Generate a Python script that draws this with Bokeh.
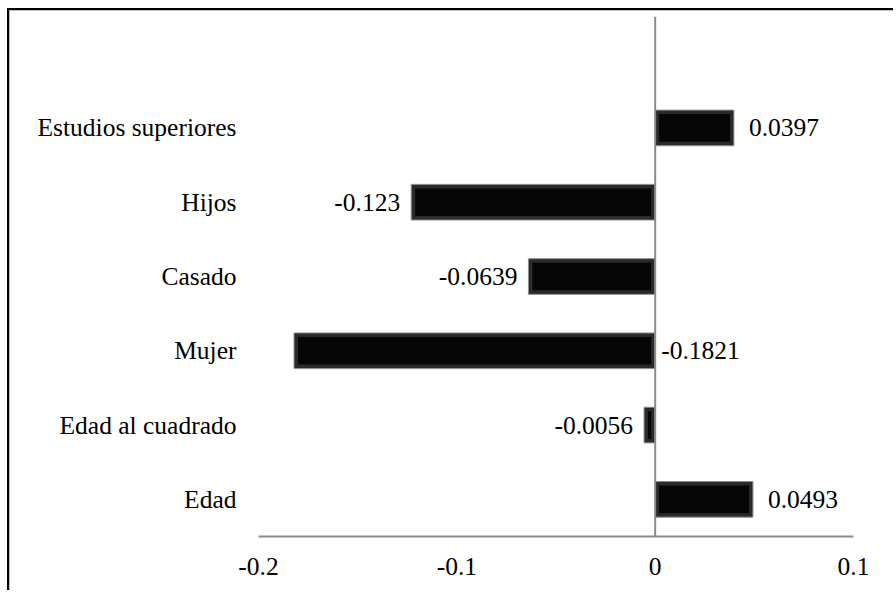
from bokeh.plotting import figure
from bokeh.models import Range1d, FixedTicker, Span, ColumnDataSource
from bokeh.core.properties import value
from bokeh.embed import file_html
from bokeh.resources import INLINE

categories = ["Edad", "Edad al cuadrado", "Mujer", "Casado", "Hijos", "Estudios superiores"]
coefs = [0.0493, -0.0056, -0.1821, -0.0639, -0.123, 0.0397]
coef_labels = ["0.0493", "-0.0056", "-0.1821", "-0.0639", "-0.123", "0.0397"]
x_ticks = [-0.2, -0.1, 0, 0.1]
x_tick_labels = ["-0.2", "-0.1", "0", "0.1"]

FONT = "Liberation Serif"
FS = "25.5px"
XMIN, XMAX = -0.2, 0.1
FRAME_W, FRAME_H = 595, 520
N_SLOTS = len(categories) + 1

ys = [i + 0.5 for i in range(len(categories))]

p = figure(width=886, height=582, output_backend="svg", toolbar_location=None,
           x_range=Range1d(XMIN, XMAX), y_range=Range1d(0, N_SLOTS),
           min_border_left=249, min_border_right=42, min_border_top=6, min_border_bottom=56)
p.styles = {"border-top": "2px solid #000", "border-left": "2px solid #000",
            "margin-left": "7px", "margin-top": "8px",
            "box-shadow": "inset 1px 1px 0 #aaa"}
p.outline_line_color = None
p.grid.visible = False

# x axis
p.xaxis.ticker = FixedTicker(ticks=x_ticks)
p.xaxis.major_label_overrides = {t: l for t, l in zip(x_ticks, x_tick_labels)}
p.xaxis.axis_line_color = "#8c8c8c"
p.xaxis.axis_line_width = 2
p.xaxis.major_tick_line_color = None
p.xaxis.minor_tick_line_color = None
p.xaxis.major_label_standoff = 15
p.xaxis.major_label_text_font = FONT
p.xaxis.major_label_text_font_size = FS
p.xaxis.major_label_text_color = "#000"

# y axis
p.yaxis.ticker = FixedTicker(ticks=ys)
p.yaxis.major_label_overrides = {y: c for y, c in zip(ys, categories)}
p.yaxis.axis_line_color = None
p.yaxis.major_tick_line_color = None
p.yaxis.minor_tick_line_color = None
p.yaxis.major_label_standoff = 16
p.yaxis.major_label_text_font = FONT
p.yaxis.major_label_text_font_size = FS
p.yaxis.major_label_text_color = "#000"

# zero line
p.add_layout(Span(location=0, dimension="height", line_color="#8c8c8c", line_width=2))

# bars with bevel look
px_per_x = FRAME_W / (XMAX - XMIN)
px_per_y = FRAME_H / N_SLOTS
bar_h = 0.48
inset_x = 4 / px_per_x
inset_y = 4 / px_per_y

p.hbar(y=ys, left=0, right=coefs, height=bar_h, fill_color="#2a2a2a", line_color="#8f8f8f", line_width=1)
in_left = [min(v, 0) + inset_x for v in coefs]
in_right = [max(v, 0) - inset_x for v in coefs]
in_right = [max(r, l + 0.0003) for l, r in zip(in_left, in_right)]
p.hbar(y=ys, left=in_left, right=in_right, height=bar_h - 2 * inset_y, fill_color="#060606", line_color=None)

# value labels
lx, loff, lalign = [], [], []
for v, s in zip(coefs, coef_labels):
    est_w = len(s) * 13
    if v >= 0:
        lx.append(v); loff.append(15); lalign.append("left")
    elif (v - XMIN) * px_per_x - 11 - est_w < 0:
        lx.append(0); loff.append(6); lalign.append("left")
    else:
        lx.append(v); loff.append(-11); lalign.append("right")

src = ColumnDataSource(dict(x=lx, y=ys, t=coef_labels, off=loff, al=lalign))
p.text(x="x", y="y", text="t", x_offset="off", text_align="al", text_baseline="middle",
       text_font=value(FONT), text_font_size=FS, text_color="#000", source=src)

open("out.html", "w").write(file_html(p, INLINE))
